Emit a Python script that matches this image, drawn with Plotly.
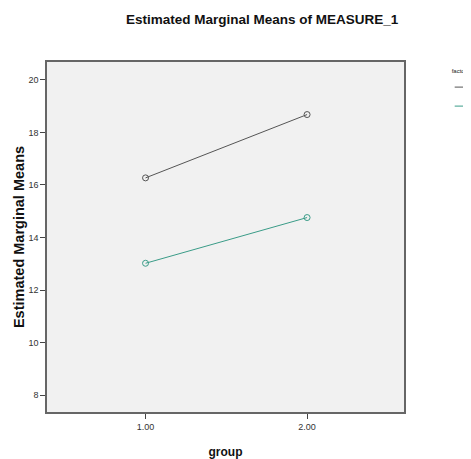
import plotly.graph_objects as go

groups = [1.0, 2.0]
factor1_level1 = [16.27, 18.68]
factor1_level2 = [13.02, 14.76]
series_names = ["1", "2"]
x_ticks = [1.0, 2.0]
x_tick_labels = ["1.00", "2.00"]
y_ticks = [8, 10, 12, 14, 16, 18, 20]

fig = go.Figure()
fig.add_trace(go.Scatter(
    x=groups, y=factor1_level1, name=series_names[0], mode="lines+markers",
    line=dict(color="#555555", width=1),
    marker=dict(symbol="circle-open", size=6, color="#555555", line=dict(width=1)),
))
fig.add_trace(go.Scatter(
    x=groups, y=factor1_level2, name=series_names[1], mode="lines+markers",
    line=dict(color="#3a9c88", width=1),
    marker=dict(symbol="circle-open", size=6, color="#3a9c88", line=dict(width=1)),
))

# page body has an 8px default margin; the figure size/margins compensate for it
fig.update_layout(
    width=463, height=451,
    margin=dict(l=39, r=67, t=54, b=47, autoexpand=False),
    paper_bgcolor="white",
    plot_bgcolor="#f1f1f1",
    font=dict(family="Liberation Sans, Arial, sans-serif", color="#222222"),
    title=dict(text="<b>Estimated Marginal Means of MEASURE_1</b>",
               x=0.549, xanchor="center", y=0.975, yanchor="middle",
               font=dict(size=13.5, color="#111111")),
    showlegend=True,
    legend=dict(x=1.128, xanchor="left", y=0.992, yanchor="top",
                title=dict(text="factor1", font=dict(size=6)),
                font=dict(size=6), bgcolor="rgba(0,0,0,0)",
                tracegroupgap=0),
    xaxis=dict(range=[0.39, 2.6], tickvals=x_ticks, ticktext=x_tick_labels,
               ticks="outside", ticklen=5, tickcolor="#444444",
               showgrid=False, zeroline=False,
               showline=True, linecolor="#666666", linewidth=1.5, mirror=True,
               tickfont=dict(size=9, color="#333333"),
               title=dict(text="<b>group</b>", font=dict(size=12, color="#111111"), standoff=19)),
    yaxis=dict(range=[7.36, 20.68], tickvals=y_ticks,
               ticks="outside", ticklen=5, tickcolor="#444444",
               showgrid=False, zeroline=False,
               showline=True, linecolor="#666666", linewidth=1.5, mirror=True,
               tickfont=dict(size=9, color="#333333"),
               title=dict(text="<b>Estimated Marginal Means</b>", font=dict(size=14.5, color="#111111"), standoff=0)),
)

fig.write_html("out.html")
